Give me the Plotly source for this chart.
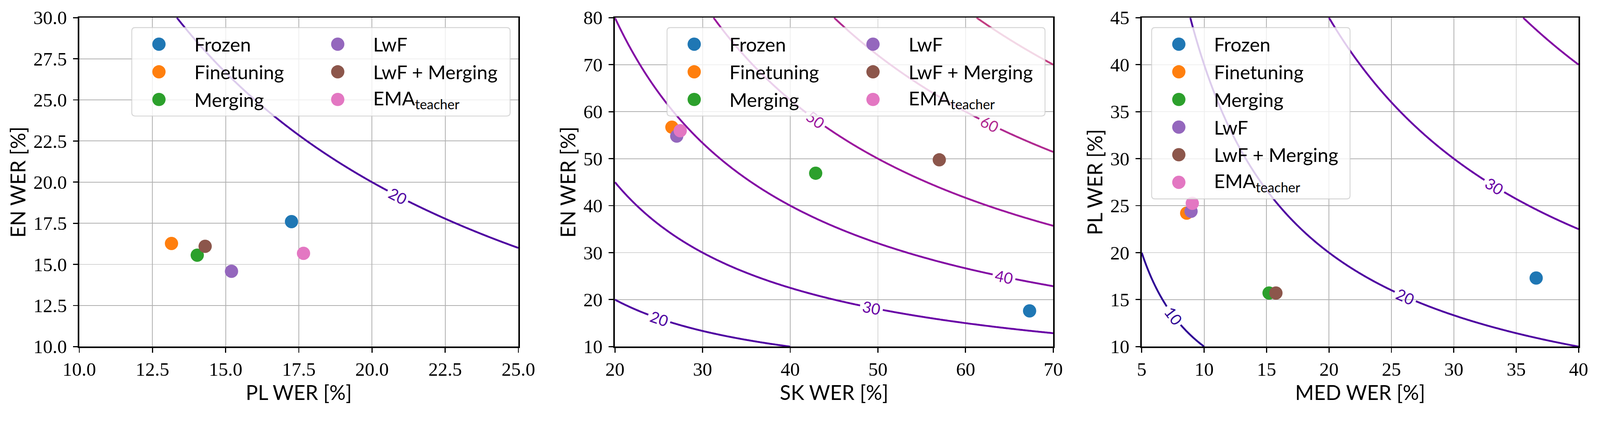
import numpy as np
import plotly.graph_objects as go
from plotly.colors import sample_colorscale

# methods and their colours (matplotlib tab10)
methods = ["Frozen", "Finetuning", "Merging", "LwF", "LwF + Merging", "EMA<sub>teacher</sub>"]
colors = ["#1f77b4", "#ff7f0e", "#2ca02c", "#9467bd", "#8c564b", "#e377c2"]

# panel 1: PL vs EN
pl_wer_1 = [17.25, 13.15, 14.03, 15.2, 14.3, 17.66]
en_wer_1 = [17.6, 16.27, 15.56, 14.58, 16.1, 15.67]
# panel 2: SK vs EN
sk_wer_2 = [67.3, 26.5, 42.9, 27.05, 57.0, 27.45]
en_wer_2 = [17.6, 56.7, 46.9, 54.8, 49.75, 55.95]
# panel 3: MED vs PL
med_wer_3 = [36.6, 8.6, 15.2, 8.95, 15.75, 9.05]
pl_wer_3 = [17.3, 24.2, 15.7, 24.4, 15.7, 25.25]

# iso-lines of the geometric mean of both WERs
levels = [10, 20, 30, 40, 50, 60, 70]

panels = [
    dict(x=pl_wer_1, y=en_wer_1, xt="PL WER [%]", yt="EN WER [%]",
         xr=[10, 25], yr=[10, 30], dx=2.5, dy=2.5, fmt=".1f", ncol=2, boxw=1026),
    dict(x=sk_wer_2, y=en_wer_2, xt="SK WER [%]", yt="EN WER [%]",
         xr=[20, 70], yr=[10, 80], dx=10, dy=10, fmt="d", ncol=2, boxw=1025),
    dict(x=med_wer_3, y=pl_wer_3, xt="MED WER [%]", yt="PL WER [%]",
         xr=[5, 40], yr=[10, 45], dx=5, dy=5, fmt="d", ncol=1, boxw=538),
]

W, H = 4339, 1102
ML, MR, MT, MB = 215, 40, 48, 161
PW, PH = W - ML - MR, H - MT - MB
ax_left = [215, 1674, 3109]
ax_right = [1411, 2868, 4299]

def fx(px):
    return (px - ML) / PW

def fy(py):
    return (H - MB - py) / PH

# contour colours: plasma sampled at level/150, spread over the start..end range
lv_cols = sample_colorscale("Plasma", [v / 150 for v in levels])
iso_scale = [[(v - levels[0]) / (levels[-1] - levels[0]), c] for v, c in zip(levels, lv_cols)]

TICK_FONT = dict(family="Liberation Serif", size=52, color="black")
LABEL_FONT = dict(family="Lato", size=55, color="black")

fig = go.Figure()
shapes, annotations = [], []

for k, p in enumerate(panels):
    xa = "x" if k == 0 else f"x{k + 1}"
    ya = "y" if k == 0 else f"y{k + 1}"

    gx = np.linspace(p["xr"][0], p["xr"][1], 300)
    gy = np.linspace(p["yr"][0], p["yr"][1], 300)
    gz = np.sqrt(np.outer(gy, gx))
    fig.add_trace(go.Contour(
        x=gx, y=gy, z=gz, xaxis=xa, yaxis=ya,
        colorscale=iso_scale, showscale=False,
        contours=dict(coloring="lines", start=levels[0], end=levels[-1], size=10,
                      showlabels=True,
                      labelfont=dict(family="Lato", size=42)),
        line=dict(width=5), hoverinfo="skip", showlegend=False,
    ))
    fig.add_trace(go.Scatter(
        x=p["x"], y=p["y"], xaxis=xa, yaxis=ya, mode="markers",
        marker=dict(color=colors, size=36, line=dict(width=0)),
        text=methods, showlegend=False,
    ))

    axis_common = dict(
        showline=True, linecolor="black", linewidth=4, mirror=True,
        ticks="outside", ticklen=13, tickwidth=3, tickcolor="black",
        showgrid=True, gridcolor="#b0b0b0", gridwidth=2, zeroline=False,
        tickfont=TICK_FONT,
    )
    fig.layout[("xaxis" if k == 0 else f"xaxis{k + 1}")] = dict(
        axis_common, domain=[fx(ax_left[k]), fx(ax_right[k])], anchor=ya,
        range=p["xr"], dtick=p["dx"], tick0=p["xr"][0], tickformat=p["fmt"],
        ticklabelstandoff=0,
        title=dict(text=p["xt"], font=LABEL_FONT, standoff=2),
    )
    fig.layout[("yaxis" if k == 0 else f"yaxis{k + 1}")] = dict(
        axis_common, domain=[0, 1], anchor=xa,
        range=p["yr"], dtick=p["dy"], tick0=p["yr"][0], tickformat=p["fmt"],
        ticklabelstandoff=6,
        title=dict(text=p["yt"], font=LABEL_FONT, standoff=4),
    )

    # legend box (matplotlib style, semi-transparent)
    ncol = p["ncol"]
    nrow = int(np.ceil(len(methods) / ncol))
    bw = p["boxw"]
    bh = 45 * 2 + 75 * (nrow - 1)
    bleft = ax_right[k] - 27 - bw if ncol == 2 else ax_left[k] + 27
    btop = MT + 27
    r = 9
    path = (f"M {r},0 L {bw - r},0 Q {bw},0 {bw},{-r} L {bw},{-(bh - r)} "
            f"Q {bw},{-bh} {bw - r},{-bh} L {r},{-bh} Q 0,{-bh} 0,{-(bh - r)} "
            f"L 0,{-r} Q 0,0 {r},0 Z")
    shapes.append(dict(
        type="path", xref="paper", yref="paper", xsizemode="pixel", ysizemode="pixel",
        xanchor=fx(bleft), yanchor=fy(btop), path=path, layer="above",
        fillcolor="rgba(255,255,255,0.8)", line=dict(color="rgba(204,204,204,0.8)", width=2.5),
    ))
    for i, (name, c) in enumerate(zip(methods, colors)):
        col, row = i // nrow, i % nrow
        mx = bleft + 74 + col * 487
        tx = bleft + 168 + col * 488
        my = btop + 45 + row * 75
        shapes.append(dict(
            type="circle", xref="paper", yref="paper", xsizemode="pixel", ysizemode="pixel",
            xanchor=fx(mx), yanchor=fy(my), x0=-18, x1=18, y0=-18, y1=18,
            fillcolor=c, line=dict(width=0), layer="above",
        ))
        annotations.append(dict(
            xref="paper", yref="paper", x=fx(tx), y=fy(my), xanchor="left", yanchor="middle",
            text=name, showarrow=False, font=dict(family="Lato", size=52, color="black"),
        ))

fig.update_layout(
    width=W, height=H,
    margin=dict(l=ML, r=MR, t=MT, b=MB),
    paper_bgcolor="white", plot_bgcolor="white",
    shapes=shapes, annotations=annotations,
    showlegend=False,
)

# make the fixed-size figure fit the browser viewport exactly
fit = (
    "document.body.style.margin='0px';"
    "document.body.style.overflow='hidden';"
    "var s=Math.min(window.innerWidth/" + str(W) + ", window.innerHeight/" + str(H) + ");"
    "if(s>0 && s<1){document.documentElement.style.zoom=s;}"
)
fig.write_html("out.html", config={"displayModeBar": False}, post_script=fit)
